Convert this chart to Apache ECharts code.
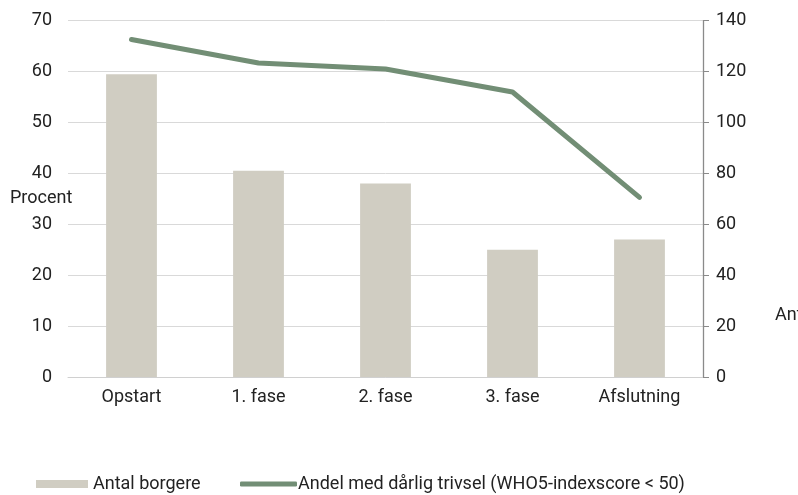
<!DOCTYPE html>
<html>
<head>
<meta charset="utf-8">
<script src="https://cdn.jsdelivr.net/npm/echarts@6/dist/echarts.min.js"></script>
<style>html,body{margin:0;padding:0;background:#fff}#c{width:798px;height:495px}</style>
</head>
<body>
<div id="c"></div>
<script>
const categories = ['Opstart', '1. fase', '2. fase', '3. fase', 'Afslutning'];
const antalBorgere = [119, 81, 76, 50, 54];
const andelDaarligTrivsel = [66.3, 61.7, 60.5, 56.0, 35.3];
const leftTicks = {min: 0, max: 70, interval: 10};
const rightTicks = {min: 0, max: 140, interval: 20};
const barName = 'Antal borgere';
const lineName = 'Andel med dårlig trivsel (WHO5-indexscore < 50)';

const FONT = 'Roboto';
const chart = echarts.init(document.getElementById('c'), null, {renderer: 'canvas'});
chart.setOption({
  animation: false,
  backgroundColor: '#ffffff',
  textStyle: {fontFamily: FONT},
  grid: {left: 68, right: 95, top: 20.7, bottom: 118, containLabel: false},
  legend: [
    {
      left: 36, top: 475, padding: 0,
      itemWidth: 52, itemHeight: 8,
      textStyle: {fontFamily: FONT, fontSize: 18, color: '#222'},
      data: [{name: barName, icon: 'rect'}]
    },
    {
      left: 240, top: 475, padding: 0,
      itemWidth: 57, itemHeight: 5,
      textStyle: {fontFamily: FONT, fontSize: 18, color: '#222', padding: [0, 0, 0, -4]},
      data: [{name: lineName, icon: 'roundRect'}]
    }
  ],
  xAxis: {
    type: 'category',
    data: categories,
    axisLine: {show: true, lineStyle: {color: '#d0d0d0', width: 1}},
    axisTick: {show: false},
    axisLabel: {fontFamily: FONT, fontSize: 18, color: '#222', margin: 11}
  },
  yAxis: [
    {
      type: 'value', position: 'left',
      min: leftTicks.min, max: leftTicks.max, interval: leftTicks.interval,
      axisLine: {show: false}, axisTick: {show: false},
      axisLabel: {fontFamily: FONT, fontSize: 18, color: '#222', margin: 16},
      splitLine: {show: true, lineStyle: {color: '#d9d9d9', width: 1}}
    },
    {
      type: 'value', position: 'right',
      min: rightTicks.min, max: rightTicks.max, interval: rightTicks.interval,
      axisLine: {show: true, lineStyle: {color: '#8a8a8a', width: 1.3}},
      axisTick: {show: true, length: 6, lineStyle: {color: '#8a8a8a'}},
      axisLabel: {fontFamily: FONT, fontSize: 18, color: '#222', margin: 13},
      splitLine: {show: false}
    }
  ],
  graphic: [
    {type: 'text', left: 10, top: 189, style: {text: 'Procent', font: '18px Roboto', fill: '#222'}},
    {type: 'text', left: 775, top: 306, style: {text: 'Antal', font: '18px Roboto', fill: '#222'}}
  ],
  series: [
    {
      name: barName, type: 'bar', yAxisIndex: 1,
      data: antalBorgere, barWidth: '40%',
      itemStyle: {color: '#d0cdc2'}
    },
    {
      name: lineName, type: 'line', yAxisIndex: 0,
      data: andelDaarligTrivsel, symbol: 'none',
      lineStyle: {color: '#728e75', width: 5, cap: 'round', join: 'round'},
      itemStyle: {color: '#728e75'}
    }
  ]
});
</script>
</body>
</html>
